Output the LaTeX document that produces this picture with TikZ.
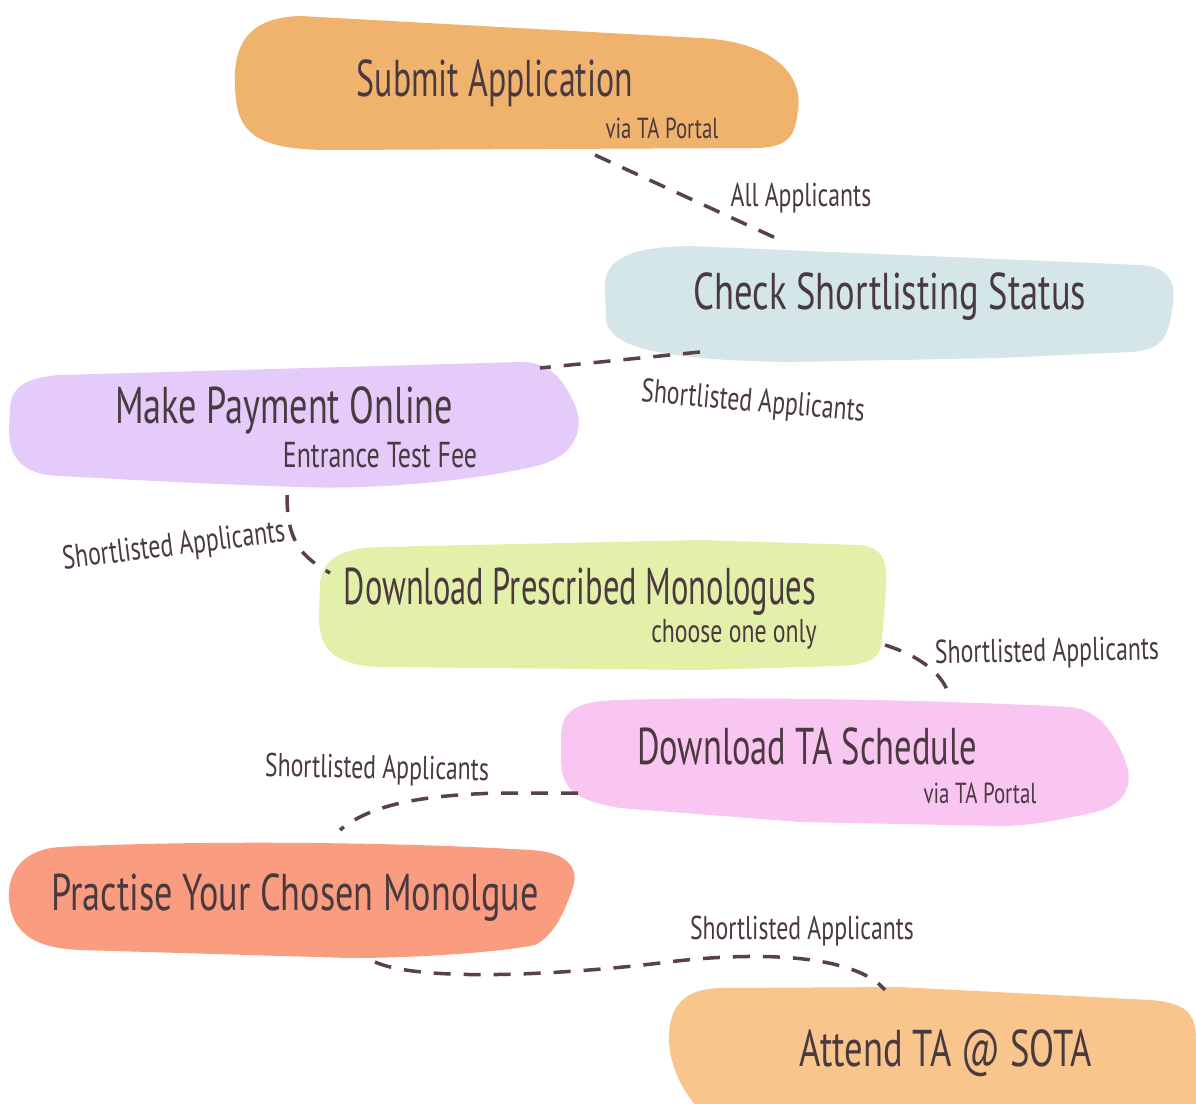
\documentclass[tikz,border=0pt]{standalone}
\usepackage{fontspec}
\newfontfamily\hand[FakeStretch=0.72]{PT Sans}
\definecolor{ink}{HTML}{4A3A40}
\definecolor{lineC}{HTML}{5A4048}
\definecolor{cSubmit}{HTML}{F0B36E}
\definecolor{cCheck}{HTML}{D4E6E8}
\definecolor{cPay}{HTML}{E5CBFA}
\definecolor{cMono}{HTML}{E3F0A9}
\definecolor{cSched}{HTML}{F9C5F1}
\definecolor{cPract}{HTML}{F99C80}
\definecolor{cAttend}{HTML}{F8C68C}
\tikzset{
  title/.style={text=ink, font=\hand\fontsize{47}{50}\selectfont, inner sep=0pt, transform shape, yscale=1.1},
  sub/.style={text=ink, font=\hand\fontsize{29}{32}\selectfont, inner sep=0pt},
  submid/.style={text=ink, font=\hand\fontsize{33}{36}\selectfont, inner sep=0pt},
  subbig/.style={text=ink, font=\hand\fontsize{36}{40}\selectfont, inner sep=0pt},
  lab/.style={text=ink, font=\hand\fontsize{33}{36}\selectfont, inner sep=0pt},
  conn/.style={draw=lineC, line width=3.5pt, dash pattern=on 17pt off 13pt, line cap=butt}
}
\begin{document}
\begin{tikzpicture}[x=1pt,y=-1pt]
\useasboundingbox (0,0) rectangle (1196,1103);
\fill[white] (0,0) rectangle (1196,1103);

% blobs
\fill[cSubmit] (300,16) -- (700,38) .. controls (780,42) and (803,80) .. (798,110)
  .. controls (795,135) and (790,146) .. (760,148) -- (330,150)
  .. controls (262,150) and (240,135) .. (236,100) .. controls (232,60) and (235,18) .. (300,16) -- cycle;
\fill[cCheck] (690,246) -- (1140,265) .. controls (1175,267) and (1176,290) .. (1172,310)
  .. controls (1168,340) and (1160,350) .. (1130,352) -- (1000,358) -- (790,362)
  .. controls (650,360) and (610,345) .. (606,320) -- (605,285)
  .. controls (605,255) and (640,247) .. (690,246) -- cycle;
\fill[cPay] (60,375) -- (520,362) .. controls (555,362) and (565,385) .. (575,405)
  .. controls (585,430) and (575,455) .. (540,465)
  .. controls (480,480) and (380,490) .. (300,487) .. controls (200,484) and (100,478) .. (60,476)
  .. controls (20,475) and (9,455) .. (9,430) -- (10,410)
  .. controls (10,385) and (30,377) .. (60,375) -- cycle;
\fill[cMono] (380,547) -- (700,540) -- (860,545) .. controls (885,547) and (888,565) .. (886,590)
  -- (882,640) .. controls (880,660) and (870,664) .. (840,666) -- (700,670) -- (380,667)
  .. controls (335,665) and (320,650) .. (319,620) -- (320,585)
  .. controls (321,560) and (340,548) .. (380,547) -- cycle;
\fill[cSched] (620,700) .. controls (700,697) and (900,698) .. (1070,707)
  .. controls (1100,710) and (1115,735) .. (1125,760)
  .. controls (1135,785) and (1125,805) .. (1095,812)
  .. controls (1060,820) and (1030,826) .. (1000,826) -- (800,822) -- (620,808)
  .. controls (575,800) and (562,790) .. (561,760) -- (561,735)
  .. controls (562,708) and (580,701) .. (620,700) -- cycle;
\fill[cPract] (60,847) .. controls (200,840) and (400,842) .. (530,850)
  .. controls (570,852) and (580,870) .. (572,890)
  .. controls (565,910) and (555,935) .. (535,945)
  .. controls (500,952) and (420,958) .. (350,958) -- (80,950)
  .. controls (30,948) and (12,930) .. (9,900) .. controls (7,870) and (25,849) .. (60,847) -- cycle;
\fill[cAttend] (720,988) -- (900,987) -- (1150,1000) .. controls (1185,1003) and (1196,1012) .. (1196,1040)
  -- (1196,1110) -- (700,1110) .. controls (680,1090) and (668,1060) .. (669,1035)
  .. controls (670,1005) and (685,989) .. (720,988) -- cycle;

% text nodes
\node[title] (submit) at (495,83) {Submit Application};
\node[sub] (submitSub) at (662,128) {via TA Portal};
\node[title, xscale=1.08] (check) at (890,297) {Check Shortlisting Status};
\node[title, xscale=1.07] (pay) at (284,410) {Make Payment Online};
\node[subbig] (paySub) at (380,455) {Entrance Test Fee};
\node[title, xscale=0.96] (mono) at (580,592) {Download Prescribed Monologues};
\node[submid] (monoSub) at (734,634) {choose one only};
\node[title, xscale=1.02] (sched) at (807,746) {Download TA Schedule};
\node[sub] (schedSub) at (980,793) {via TA Portal};
\node[title, xscale=1.07] (pract) at (295,898) {Practise Your Chosen Monolgue};
\node[title, xscale=1.08] (attend) at (946,1053) {Attend TA @ SOTA};

% connector end points
\coordinate (s1a) at (595,155);
\coordinate (s1b) at (780,240);
\coordinate (s2a) at (700,352);
\coordinate (s2b) at (540,368);
\coordinate (s3a) at (287,495);
\coordinate (s3b) at (330,573);
\coordinate (s4a) at (885,645);
\coordinate (s4b) at (950,700);
\coordinate (s5a) at (578,793);
\coordinate (s5m) at (500,793);
\coordinate (s5b) at (340,830);
\coordinate (s6a) at (375,962);
\coordinate (s6m) at (660,963);
\coordinate (s6b) at (885,990);

\draw[conn] (s1a) -- (s1b);
\draw[conn] (s2a) -- (s2b);
\draw[conn] (s3a) .. controls (287,540) and (300,556) .. (s3b);
\draw[conn] (s4a) .. controls (920,656) and (946,675) .. (s4b);
\draw[conn] (s5a) -- (s5m) .. controls (420,795) and (370,805) .. (s5b);
\draw[conn] (s6a) .. controls (420,982) and (560,975) .. (s6m) .. controls (760,950) and (855,955) .. (s6b);

% labels
\node[lab] (l1) at (801,198) {All Applicants};
\node[lab, rotate=-5] (l2) at (753,403) {Shortlisted Applicants};
\node[lab, rotate=7] (l3) at (174,547) {Shortlisted Applicants};
\node[lab, rotate=1] (l4) at (1047,653) {Shortlisted Applicants};
\node[lab, rotate=-1] (l5) at (377,770) {Shortlisted Applicants};
\node[lab] (l6) at (802,931) {Shortlisted Applicants};
\end{tikzpicture}
\end{document}
